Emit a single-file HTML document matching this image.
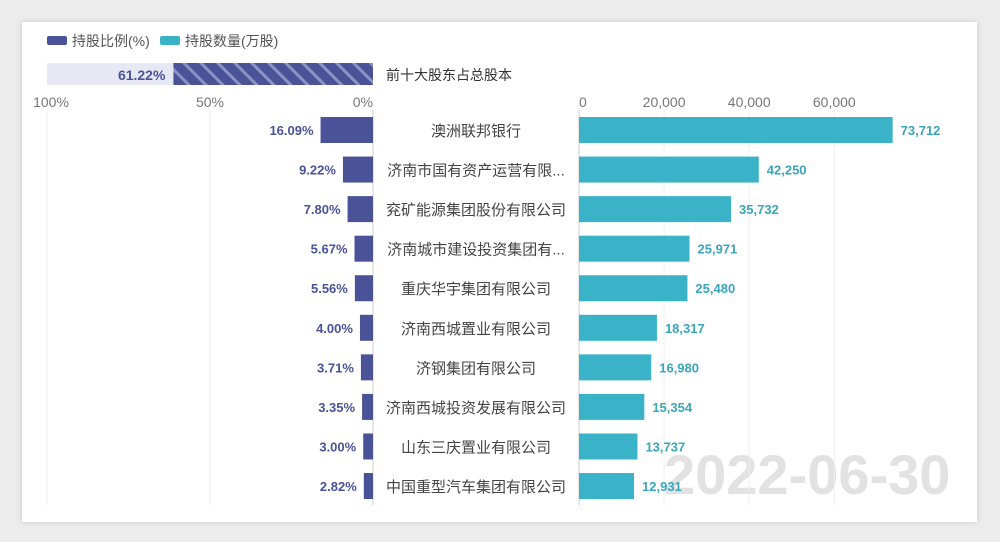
<!DOCTYPE html>
<html><head><meta charset="utf-8">
<style>
html,body{margin:0;padding:0;background:#ececec;}
body{width:1000px;height:542px;overflow:hidden;position:relative;font-family:"Liberation Sans","Noto Sans CJK SC",sans-serif;}
#card{position:absolute;left:22px;top:22px;width:955px;height:500px;background:#fff;box-shadow:0 0 6px rgba(0,0,0,0.15);}
svg{position:absolute;left:0;top:0;}
</style></head>
<body>
<div id="card"></div>
<svg id="chart" width="1000" height="542">
<defs>
<pattern id="hatch" patternUnits="userSpaceOnUse" width="12" height="12" patternTransform="rotate(-45)">
<rect width="12" height="12" fill="#4a5298"/>
<rect width="3" height="12" fill="#8c93c4"/>
</pattern>
</defs>
<text x="664" y="494" font-size="56" font-weight="bold" fill="#e2e2e2">2022-06-30</text>
</svg>
<script>
const categories=["澳洲联邦银行","济南市国有资产运营有限...","兖矿能源集团股份有限公司","济南城市建设投资集团有...","重庆华宇集团有限公司","济南西城置业有限公司","济钢集团有限公司","济南西城投资发展有限公司","山东三庆置业有限公司","中国重型汽车集团有限公司"];
const ratioValues=[16.09,9.22,7.80,5.67,5.56,4.00,3.71,3.35,3.00,2.82];
const shareValues=[73712,42250,35732,25971,25480,18317,16980,15354,13737,12931];
const totalRatio=[61.22];
const pctTicks=[100,50,0];
const shareTicks=[0,20000,40000,60000];

const svg=document.getElementById('chart');
const NS='http://www.w3.org/2000/svg';
function mk(tag,attrs,text){const e=document.createElementNS(NS,tag);for(const k in attrs)e.setAttribute(k,attrs[k]);if(text!==undefined)e.textContent=text;svg.appendChild(e);return e;}
const xL=v=>373-v*3.26;
const xR=v=>579+v*0.004255;
const yC=i=>130+i*39.56;
const BH=26;
const dark="#4a5298",teal="#3ab3c9";

let e=mk('rect',{x:47,y:36,width:20,height:9,fill:dark,rx:2});

e=mk('text',{x:72,y:46,'font-size':14,fill:'#555'},'持股比例(%)');

e=mk('rect',{x:160,y:36,width:20,height:9,fill:teal,rx:2});

e=mk('text',{x:185,y:46,'font-size':14,fill:'#555'},'持股数量(万股)');


e=mk('rect',{x:xL(100),y:63,width:xL(totalRatio[0])-xL(100),height:22,fill:'#e6e8f4'});

e=mk('rect',{x:xL(totalRatio[0]),y:63,width:xL(0)-xL(totalRatio[0]),height:22,fill:'url(#hatch)'});

e=mk('text',{x:xL(totalRatio[0])-8,y:80,'font-size':14,'font-weight':'bold',fill:dark,'text-anchor':'end'},totalRatio[0].toFixed(2)+'%');

e=mk('text',{x:386,y:80,'font-size':14,fill:'#333'},'前十大股东占总股本');


pctTicks.forEach(t=>{
 e=mk('line',{x1:xL(t),x2:xL(t),y1:110,y2:505,stroke:'#efefef'});
 
 e=mk('text',{x:xL(t)+(t===100?4:0),y:107,'font-size':14,fill:'#777','text-anchor':t===0?'end':'middle'},t+'%');
 
});
shareTicks.forEach(t=>{
 e=mk('line',{x1:xR(t),x2:xR(t),y1:110,y2:505,stroke:t===0?'#ccc':'#efefef'});
 
 e=mk('text',{x:xR(t),y:107,'font-size':14,fill:'#777','text-anchor':t===0?'start':'middle'},t.toLocaleString('en-US'));
 
});
e=mk('line',{x1:373,x2:373,y1:110,y2:505,stroke:'#ccc'});


categories.forEach((c,i)=>{
 const y=yC(i);
 e=mk('rect',{x:xL(ratioValues[i]),y:y-BH/2,width:xL(0)-xL(ratioValues[i]),height:BH,fill:dark});
 
 e=mk('text',{x:xL(ratioValues[i])-7,y:y+5,'font-size':13,'font-weight':'bold',fill:dark,'text-anchor':'end'},ratioValues[i].toFixed(2)+'%');
 
 e=mk('text',{x:476,y:y+6,'font-size':15,fill:'#444','text-anchor':'middle'},c);
 
 e=mk('rect',{x:xR(0),y:y-BH/2,width:xR(shareValues[i])-xR(0),height:BH,fill:teal});
 
 e=mk('text',{x:xR(shareValues[i])+8,y:y+5,'font-size':13,'font-weight':'bold',fill:'#3aa5bb'},shareValues[i].toLocaleString('en-US'));
 
});
</script>
</body></html>
